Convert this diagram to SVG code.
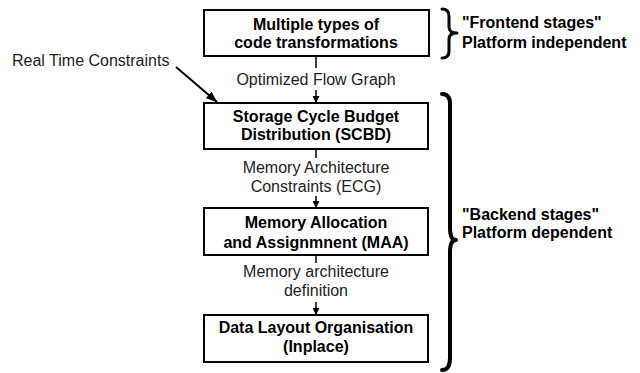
<svg xmlns="http://www.w3.org/2000/svg" width="640" height="373" viewBox="0 0 640 373">
<defs>
<style>
.box{fill:#fff;stroke:#000;stroke-width:2}
.bt{font-family:"Liberation Sans",Arial,sans-serif;font-size:16px;font-weight:bold;text-anchor:middle;fill:#000}
.lt{font-family:"Liberation Sans",Arial,sans-serif;font-size:16px;text-anchor:middle;fill:#222}
.side{font-family:"Liberation Sans",Arial,sans-serif;font-size:16px;font-weight:bold;fill:#000}
.con{stroke:#000;stroke-width:1.5;fill:none}
.brace{stroke:#000;fill:none;stroke-linecap:round;stroke-linejoin:round}
</style>
<marker id="ah" viewBox="0 0 10 10" refX="10" refY="5" markerWidth="7" markerHeight="7" markerUnits="userSpaceOnUse" orient="auto">
<path d="M0,0 L10,5 L0,10 Z" fill="#000"/>
</marker>
<marker id="ahL" viewBox="0 0 10 10" refX="10" refY="5" markerWidth="11" markerHeight="11" markerUnits="userSpaceOnUse" orient="auto">
<path d="M0,1 L10,5 L0,9 Z" fill="#000"/>
</marker>
</defs>
<rect width="640" height="373" fill="#fff"/>
<g id="connectors">
<line class="con" x1="316" y1="57" x2="316" y2="68"/>
<line class="con" x1="316" y1="90" x2="316" y2="103" marker-end="url(#ah)"/>
<line class="con" x1="316" y1="150" x2="316" y2="158"/>
<line class="con" x1="316" y1="196" x2="316" y2="208" marker-end="url(#ah)"/>
<line class="con" x1="316" y1="256" x2="316" y2="263"/>
<line class="con" x1="316" y1="302" x2="316" y2="315" marker-end="url(#ah)"/>
<line stroke="#000" stroke-width="2" x1="176" y1="67" x2="217" y2="102" marker-end="url(#ahL)"/>
</g>
<g id="labels">
<text class="lt" x="316" y="85">Optimized Flow Graph</text>
<text class="lt" x="316" y="173">Memory Architecture</text>
<text class="lt" x="316" y="192">Constraints (ECG)</text>
<text class="lt" x="316" y="277">Memory architecture</text>
<text class="lt" x="316" y="296">definition</text>
<text class="lt" x="12" y="66" style="text-anchor:start">Real Time Constraints</text>
</g>
<g id="n1">
<rect class="box" x="204" y="10" width="225" height="46"/>
<text class="bt" x="316" y="30">Multiple types of</text>
<text class="bt" x="316" y="48">code transformations</text>
</g>
<g id="n2">
<rect class="box" x="204" y="103" width="224" height="46"/>
<text class="bt" x="316" y="122">Storage Cycle Budget</text>
<text class="bt" x="316" y="140">Distribution (SCBD)</text>
</g>
<g id="n3">
<rect class="box" x="204" y="208" width="224" height="47"/>
<text class="bt" x="316" y="228">Memory Allocation</text>
<text class="bt" x="316" y="248">and Assignmnent (MAA)</text>
</g>
<g id="n4">
<rect class="box" x="204" y="315" width="224" height="47"/>
<text class="bt" x="316" y="333">Data Layout Organisation</text>
<text class="bt" x="316" y="352">(Inplace)</text>
</g>
<g id="frontend">
<path class="brace" stroke-width="3" d="M442 9 Q449 9 449 16 L449 27 Q449 33 457 33 Q449 33 449 39 L449 51 Q449 58 442 58"/>
<text class="side" x="462" y="28">"Frontend stages"</text>
<text class="side" x="462" y="48">Platform independent</text>
</g>
<g id="backend">
<path class="brace" stroke-width="4" d="M442 94 Q450 94 450 104 L450 228 Q450 240 456 240 Q450 240 450 252 L450 358 Q450 370 442 370"/>
<text class="side" x="462" y="220">"Backend stages"</text>
<text class="side" x="462" y="238">Platform dependent</text>
</g>
</svg>
